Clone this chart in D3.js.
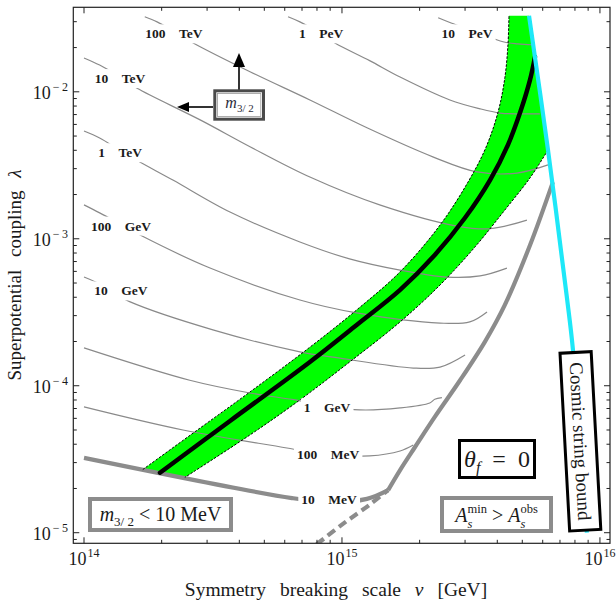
<!DOCTYPE html>
<html>
<head>
<meta charset="utf-8">
<script src="https://cdn.jsdelivr.net/npm/d3@7"></script>
<style>
  html, body { margin: 0; padding: 0; background: #fff; }
  svg text { font-family: "Liberation Serif", "Times New Roman", serif; fill: #1a1a1a; }
</style>
</head>
<body>
<svg id="chart" width="616" height="603"></svg>
<script>
// ---- axis ticks (powers of ten) ----
const xTickExponents = [14, 15, 16];
const yTickExponents = [-5, -4, -3, -2];

// ---- gravitino mass contours, points are [v (GeV), lambda] ----
const contour10PeV = [[2.36e15,3.19e-2],[2.65e15,2.94e-2],[3.34e15,2.55e-2],[4.21e15,2.19e-2],[4.81e15,2.12e-2],[5.50e15,2.09e-2]];
const contour1PeV = [[6.18e14,3.24e-2],[6.87e14,2.99e-2],[8.07e14,2.56e-2],[9.39e14,2.15e-2],[1.28e15,1.63e-2],[1.68e15,1.26e-2],[2.62e15,8.80e-3],[3.43e15,7.66e-3],[4.10e15,7.17e-3],[4.90e15,7.08e-3],[5.85e15,7.08e-3]];
const contour100TeV = [[1.72e14,3.24e-2],[1.92e14,2.99e-2],[2.25e14,2.56e-2],[2.65e14,2.15e-2],[4.40e14,1.37e-2],[7.51e14,8.80e-3],[1.25e15,5.69e-3],[2.25e15,3.61e-3],[3.34e15,2.85e-3],[4.77e15,2.80e-3],[6.29e15,3.18e-3]];
const contour10TeV = [[1.0e14,1.70e-2],[1.15e14,1.52e-2],[1.35e14,1.29e-2],[1.60e14,1.06e-2],[2.82e14,6.44e-3],[4.40e14,4.23e-3],[7.51e14,2.63e-3],[1.40e15,1.70e-3],[2.79e15,1.22e-3],[3.75e15,1.17e-3],[5.21e15,1.34e-3]];
const contour1TeV = [[1.0e14,5.41e-3],[1.15e14,4.85e-3],[1.37e14,4.02e-3],[1.62e14,3.38e-3],[2.21e14,2.51e-3],[3.68e14,1.52e-3],[6.87e14,9.51e-4],[1.07e15,7.30e-4],[1.68e15,6.12e-4],[2.55e15,5.49e-4],[3.43e15,5.59e-4],[4.36e15,6.32e-4]];
const contour100GeV = [[1.0e14,1.70e-3],[1.15e14,1.50e-3],[1.38e14,1.26e-3],[1.65e14,1.06e-3],[3.08e14,6.32e-4],[6.87e14,3.83e-4],[1.14e15,3.13e-4],[2.40e15,2.67e-4],[3.13e15,2.72e-4],[3.65e15,3.18e-4]];
const contour10GeV = [[1.0e14,5.49e-4],[1.15e14,4.92e-4],[1.32e14,4.22e-4],[1.51e14,3.72e-4],[3.16e14,2.40e-4],[6.87e14,1.70e-4],[9.82e14,1.54e-4],[1.89e15,1.32e-4],[2.40e15,1.34e-4],[3.00e15,1.62e-4]];
const contour1GeV = [[1.0e14,1.81e-4],[2.57e14,1.09e-4],[4.40e14,8.93e-5],[6.58e14,8.01e-5],[8.75e14,7.28e-5],[1.17e15,6.85e-5],[1.68e15,7.07e-5],[2.19e15,7.64e-5],[2.29e15,8.10e-5],[2.44e15,8.30e-5]];
const contour100MeV = [[1.0e14,7.18e-5],[2.42e14,5.00e-5],[6.12e14,3.77e-5],[8.75e14,3.38e-5],[1.28e15,3.33e-5],[1.68e15,3.60e-5],[1.89e15,3.95e-5]];

const contourSeries = [contour10PeV, contour1PeV, contour100TeV, contour10TeV, contour1TeV, contour100GeV, contour10GeV, contour1GeV, contour100MeV];
const contourNumbers = ["10", "1", "100", "10", "1", "100", "10", "1", "100"];
const contourUnits = ["PeV", "PeV", "TeV", "TeV", "TeV", "GeV", "GeV", "GeV", "MeV"];
const contourLabelAt = [[3.05e15,2.48e-2],[8.30e14,2.48e-2],[2.23e14,2.48e-2],[1.38e14,1.23e-2],[1.38e14,3.85e-3],[1.39e14,1.22e-3],[1.39e14,4.42e-4],[8.75e14,7.07e-5],[8.83e14,3.38e-5]];

// ---- bounds ----
const bound10MeV = [[1.0e14,3.23e-5],[6.40e14,1.72e-5],[8.91e14,1.62e-5],[1.25e15,1.70e-5],[1.51e15,1.95e-5]];
const bound10MeVLabelAt = [8.91e14, 1.67e-5];
const asBoundSolid = [[1.51e15,1.95e-5],[1.68e15,2.67e-5],[1.92e15,3.83e-5],[2.29e15,6.14e-5],[2.87e15,1.09e-4],[3.58e15,1.99e-4],[4.28e15,3.55e-4],[5.36e15,9.07e-4],[6.57e15,2.43e-3]];
const asBoundDashed = [[7.19e14,7.4e-6],[8.07e14,8.5e-6],[1.03e15,1.18e-5],[1.28e15,1.55e-5],[1.51e15,1.95e-5]];
const cosmicString = [[5.31e15,3.29e-2],[6.29e15,4.02e-3],[7.45e15,3.95e-4],[7.86e15,1.75e-4],[8.9e15,1.0e-5]];

// ---- allowed band ----
const bandUpper = [[1.69e14,2.69e-5],[2.82e14,5.16e-5],[4.40e14,9.08e-5],[7.51e14,1.83e-4],[1.14e15,3.28e-4],[1.68e15,5.96e-4],[2.40e15,1.24e-3],[3.08e15,2.43e-3],[3.61e15,4.16e-3],[4.03e15,7.31e-3],[4.28e15,1.25e-2],[4.40e15,2.09e-2],[4.44e15,3.29e-2]];
const bandLower = [[6.29e15,4.02e-3],[5.36e15,2.60e-3],[4.28e15,1.57e-3],[3.28e15,8.81e-4],[2.40e15,4.85e-4],[1.68e15,2.72e-4],[1.07e15,1.45e-4],[6.87e14,8.01e-5],[4.40e14,4.63e-5],[2.46e14,2.38e-5]];
const bandCenter = [[1.97e14,2.56e-5],[3.68e14,5.76e-5],[7.51e14,1.45e-4],[1.14e15,2.59e-4],[1.68e15,4.49e-4],[2.29e15,7.76e-4],[3.00e15,1.39e-3],[3.75e15,2.51e-3],[4.40e15,4.36e-3],[4.94e15,7.52e-3],[5.36e15,1.21e-2],[5.60e15,1.73e-2]];

// ---- layout ----
const svg = d3.select("#chart");
const frame = { left: 73.3, right: 610, top: 7.3, bottom: 543.3 };

const x = d3.scaleLog().domain([Math.pow(10, 13.9585), Math.pow(10, 16.039)]).range([frame.left, frame.right]);
const y = d3.scaleLog().domain([Math.pow(10, -5.072), Math.pow(10, -1.425)]).range([frame.bottom, frame.top]);

svg.append("defs").append("clipPath").attr("id", "plotClip").append("rect")
  .attr("x", frame.left).attr("y", frame.top)
  .attr("width", frame.right - frame.left).attr("height", frame.bottom - frame.top);

const line = d3.line().x(d => x(d[0])).y(d => y(d[1])).curve(d3.curveCatmullRom.alpha(0.5));
const plot = svg.append("g").attr("clip-path", "url(#plotClip)");

// green band fill: upper edge, across the top to the string bound, then the lower edge back
const upperPath = line(bandUpper);
const lowerPath = line(bandLower);
const bandCorner = cosmicString[0];
plot.append("path")
  .attr("d", upperPath + "L" + x(bandCorner[0]) + "," + y(bandCorner[1]) + "L" + lowerPath.slice(1) + "Z")
  .attr("fill", "#00ff00").attr("stroke", "none");

// gravitino mass contours
contourSeries.forEach(pts => {
  plot.append("path").attr("d", line(pts))
    .attr("fill", "none").attr("stroke", "#8a8a8a").attr("stroke-width", 1.2);
});

// thick grey bounds
plot.append("path").attr("d", line(bound10MeV))
  .attr("fill", "none").attr("stroke", "#8c8c8c").attr("stroke-width", 4.2);
plot.append("path").attr("d", line(asBoundSolid))
  .attr("fill", "none").attr("stroke", "#8c8c8c").attr("stroke-width", 4.2);
plot.append("path").attr("d", line(asBoundDashed))
  .attr("fill", "none").attr("stroke", "#8c8c8c").attr("stroke-width", 4.2)
  .attr("stroke-dasharray", "9,5");

// band edges and central curve
[bandUpper, bandLower].forEach(pts => {
  plot.append("path").attr("d", line(pts))
    .attr("fill", "none").attr("stroke", "#000").attr("stroke-width", 1)
    .attr("stroke-dasharray", "2.5,1.5");
});
plot.append("path").attr("d", line(bandCenter))
  .attr("fill", "none").attr("stroke", "#000").attr("stroke-width", 4.5).attr("stroke-linecap", "round");

// cosmic string bound
plot.append("path").attr("d", line(cosmicString))
  .attr("fill", "none").attr("stroke", "#1ee8f8").attr("stroke-width", 4.2);

// contour labels sit on a white patch that interrupts the line
function contourLabel(num, unit, at) {
  const g = plot.append("g");
  const t = g.append("text")
    .attr("x", x(at[0])).attr("y", y(at[1]))
    .attr("text-anchor", "middle").attr("dominant-baseline", "central")
    .attr("font-size", 13.5).attr("font-weight", "bold")
    .text(num + "\u2003" + unit);
  const b = t.node().getBBox();
  g.insert("rect", "text")
    .attr("x", b.x - 3).attr("y", b.y - 2)
    .attr("width", b.width + 6).attr("height", b.height + 4)
    .attr("fill", "#fff");
}
contourSeries.forEach((pts, i) => contourLabel(contourNumbers[i], contourUnits[i], contourLabelAt[i]));
contourLabel("10", "MeV", bound10MeVLabelAt);

// ---- rich text helper: one text element, tspans placed by measurement ----
function richText(parent, parts, cx, baseline, color) {
  const g = parent.append("g");
  const probe = g.append("text").style("white-space", "pre");
  const widths = parts.map(p => {
    probe.attr("font-size", p.size).attr("font-style", p.italic ? "italic" : "normal").text(p.t);
    return probe.node().getComputedTextLength();
  });
  probe.remove();
  let pos = 0, stackStart = null, stackW = 0;
  const xs = parts.map((p, i) => {
    const w = widths[i];
    if (p.stack === "begin") { stackStart = pos; stackW = w; return pos; }
    if (p.stack === "end") { const s = stackStart; stackW = Math.max(stackW, w); pos = s + stackW; stackStart = null; return s; }
    const s = pos; pos += w; return s;
  });
  const left = cx - pos / 2;
  const t = g.append("text").style("white-space", "pre").style("fill", color || "#1a1a1a");
  parts.forEach((p, i) => {
    t.append("tspan")
      .attr("x", left + xs[i]).attr("y", baseline - (p.rise || 0))
      .attr("font-size", p.size)
      .attr("font-style", p.italic ? "italic" : "normal")
      .text(p.t);
  });
  return g;
}

// ---- annotation boxes ----
const ann = svg.append("g");

// m_{3/2} direction box with arrows
ann.append("line").attr("x1", 213).attr("y1", 107).attr("x2", 188).attr("y2", 107)
  .attr("stroke", "#000").attr("stroke-width", 1.6);
ann.append("path").attr("d", "M177,107 L189,102 L189,112 Z").attr("fill", "#000");
ann.append("line").attr("x1", 239).attr("y1", 90).attr("x2", 239).attr("y2", 66)
  .attr("stroke", "#000").attr("stroke-width", 1.6);
ann.append("path").attr("d", "M239,53 L233,67 L245,67 Z").attr("fill", "#000");
ann.append("rect").attr("x", 214.8).attr("y", 90.8).attr("width", 48.7).attr("height", 28.4)
  .attr("fill", "#fff").attr("stroke", "#4a4a4a").attr("stroke-width", 3);
ann.append("rect").attr("x", 217.5).attr("y", 93.5).attr("width", 43.3).attr("height", 23)
  .attr("fill", "none").attr("stroke", "#9a9a9a").attr("stroke-width", 0.8);
richText(ann, [
  { t: "m", size: 16, italic: true },
  { t: "3/ 2", size: 11, rise: -4 }
], 239.5, 108, "#2b2b3b");

// m_{3/2} < 10 MeV
ann.append("rect").attr("x", 90).attr("y", 499).attr("width", 141).attr("height", 31)
  .attr("fill", "#fff").attr("stroke", "#8c8c8c").attr("stroke-width", 4);
richText(ann, [
  { t: "m", size: 20, italic: true },
  { t: "3/ 2", size: 13, rise: -5 },
  { t: " < 10 MeV", size: 20 }
], 160.5, 521);

// theta_f = 0
ann.append("rect").attr("x", 459.5).attr("y", 440.5).attr("width", 75).attr("height", 37)
  .attr("fill", "#fff").attr("stroke", "#000").attr("stroke-width", 3);
richText(ann, [
  { t: "\u03b8", size: 24, italic: true },
  { t: "f", size: 16, italic: true, rise: -6 },
  { t: "\u2002=\u20020", size: 24 }
], 497, 467);

// A_s^min > A_s^obs
ann.append("rect").attr("x", 442).attr("y", 498).attr("width", 109).attr("height", 33)
  .attr("fill", "#fff").attr("stroke", "#8c8c8c").attr("stroke-width", 4);
richText(ann, [
  { t: "A", size: 20, italic: true },
  { t: "min", size: 12.5, rise: 9, stack: "begin" },
  { t: "s", size: 12.5, italic: true, rise: -6, stack: "end" },
  { t: " > ", size: 20 },
  { t: "A", size: 20, italic: true },
  { t: "obs", size: 12.5, rise: 9, stack: "begin" },
  { t: "s", size: 12.5, italic: true, rise: -6, stack: "end" }
], 496.5, 522);

// cosmic string bound label, tilted along the bound
const cs = ann.append("g").attr("transform", "translate(580.4,441.3) rotate(86.9)");
cs.append("rect").attr("x", -89).attr("y", -15.6).attr("width", 178).attr("height", 31.2)
  .attr("fill", "#fff").attr("stroke", "#000").attr("stroke-width", 3);
cs.append("text").attr("x", 0).attr("y", 6.5).attr("text-anchor", "middle")
  .attr("font-size", 19).text("Cosmic string bound");

// ---- frame, ticks and tick labels ----
const axes = svg.append("g");
axes.append("rect").attr("x", frame.left).attr("y", frame.top)
  .attr("width", frame.right - frame.left).attr("height", frame.bottom - frame.top)
  .attr("fill", "none").attr("stroke", "#222").attr("stroke-width", 1.2);

function logTicks(scale) {
  const [a, b] = scale.domain();
  const out = [];
  for (let e = Math.floor(Math.log10(a)); e <= Math.ceil(Math.log10(b)); e++) {
    for (let k = 1; k <= 9; k++) {
      const v = k * Math.pow(10, e);
      if (v >= a && v <= b) out.push({ v: v, major: k === 1 });
    }
  }
  return out;
}
logTicks(x).forEach(t => {
  const px = x(t.v), len = t.major ? 6 : 3.5;
  axes.append("line").attr("x1", px).attr("x2", px).attr("y1", frame.bottom).attr("y2", frame.bottom - len)
    .attr("stroke", "#222").attr("stroke-width", 1);
  axes.append("line").attr("x1", px).attr("x2", px).attr("y1", frame.top).attr("y2", frame.top + len)
    .attr("stroke", "#222").attr("stroke-width", 1);
});
logTicks(y).forEach(t => {
  const py = y(t.v), len = t.major ? 6 : 3.5;
  axes.append("line").attr("y1", py).attr("y2", py).attr("x1", frame.left).attr("x2", frame.left + len)
    .attr("stroke", "#222").attr("stroke-width", 1);
  axes.append("line").attr("y1", py).attr("y2", py).attr("x1", frame.right).attr("x2", frame.right - len)
    .attr("stroke", "#222").attr("stroke-width", 1);
});

xTickExponents.forEach(e => {
  const t = axes.append("text").attr("x", x(Math.pow(10, e))).attr("y", 565)
    .attr("text-anchor", "middle").attr("font-size", 18);
  t.append("tspan").text("10");
  t.append("tspan").attr("dx", 1).attr("dy", -8).attr("font-size", 12).text(String(e));
});
yTickExponents.forEach(e => {
  const t = axes.append("text").attr("x", 68).attr("y", y(Math.pow(10, e)) + 7)
    .attr("text-anchor", "end").attr("font-size", 18);
  t.append("tspan").text("10");
  t.append("tspan").attr("dx", 2).attr("dy", -8).attr("font-size", 12).text("\u2212\u2009" + Math.abs(e));
});

// axis titles
const xTitle = axes.append("text").attr("x", 336).attr("y", 596).attr("text-anchor", "middle")
  .attr("font-size", 19.5).style("word-spacing", "9px");
xTitle.append("tspan").text("Symmetry breaking scale ");
xTitle.append("tspan").attr("font-style", "italic").text("v");
xTitle.append("tspan").text(" [GeV]");

const yTitle = axes.append("text").attr("transform", "translate(21,275) rotate(-90)")
  .attr("text-anchor", "middle").attr("font-size", 19).style("word-spacing", "8px");
yTitle.append("tspan").text("Superpotential coupling ");
yTitle.append("tspan").attr("font-style", "italic").text("\u03bb");
</script>
</body>
</html>
